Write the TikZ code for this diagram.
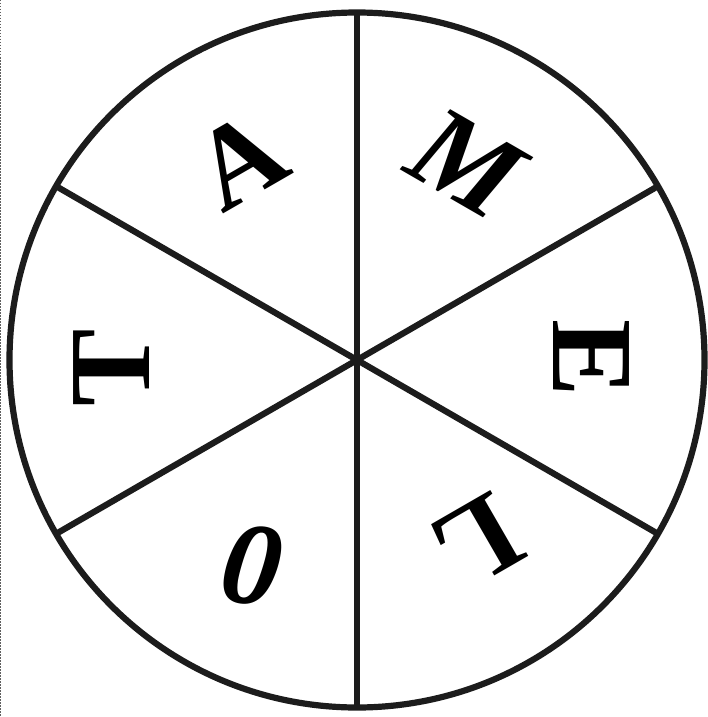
\documentclass[tikz,border=0pt]{standalone}
\usepackage{fontspec}
\setmainfont{Liberation Serif}
\definecolor{ink}{HTML}{1C1C1C}
\begin{document}
\begin{tikzpicture}[x=1pt,y=-1pt,
  rim/.style={draw=ink, line width=6.2pt},
  spoke/.style={draw=ink, line width=6.2pt},
  letter/.style={inner sep=0pt, text=black, font=\fontsize{116}{120}\selectfont\bfseries},
  italletter/.style={inner sep=0pt, text=black, font=\fontsize{118}{120}\selectfont\bfseries\itshape},
  edge/.style={draw=ink!70, line width=1pt, dash pattern=on 1.5pt off 1.5pt}]
\useasboundingbox (0,0) rectangle (708,717);
\fill[white] (0,0) rectangle (708,717);
\coordinate (e1) at (0.8,0);
\coordinate (e2) at (0.8,717);
\draw[edge] (e1) -- (e2);
\coordinate (c) at (357,360);
\coordinate (p90) at (357,12.5);
\coordinate (p270) at (357,707.5);
\coordinate (p30) at (657.9,186.2);
\coordinate (p150) at (56.1,186.2);
\coordinate (p210) at (56.1,533.8);
\coordinate (p330) at (657.9,533.8);
\draw[spoke] (p90) -- (p270);
\draw[spoke] (p150) -- (p330);
\draw[spoke] (p210) -- (p30);
\draw[rim] (c) circle[radius=347.5];
\node[letter, rotate=30] (la) at (240,160) {A};
\node[italletter, rotate=-30] (lm) at (466,163) {M};
\node[letter, rotate=-90] (le) at (591,358) {E};
\node[letter, rotate=-150] (ll) at (478,542) {L};
\node[italletter, rotate=172] (lo) at (254,566) {0};
\node[letter, rotate=90] (lt) at (112,368) {T};
\end{tikzpicture}
\end{document}
